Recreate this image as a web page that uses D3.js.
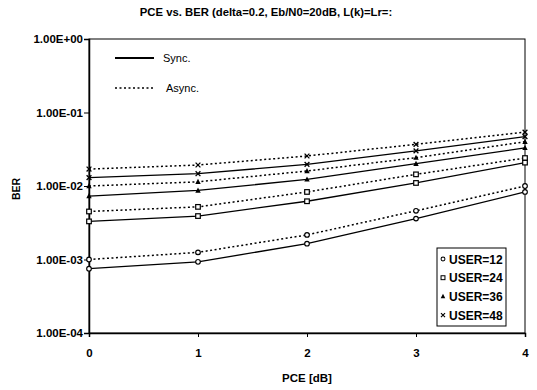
<!DOCTYPE html>
<html>
<head>
<meta charset="utf-8">
<script src="https://cdn.jsdelivr.net/npm/d3@7"></script>
<style>
  body { margin: 0; background: #fff; }
  text { font-family: 'Liberation Sans', Arial, sans-serif; fill: #000; }
</style>
</head>
<body>
<script>
const WIDTH = 537;
const HEIGHT = 390;
const MARGIN = { top: 39, right: 12, bottom: 57, left: 89 };

// PCE values along the x axis
const pce = [0, 1, 2, 3, 4];
const yTicks = [1e0, 1e-1, 1e-2, 1e-3, 1e-4];
const yTickLabels = ['1.00E+00', '1.00E-01', '1.00E-02', '1.00E-03', '1.00E-04'];

// BER per user count, synchronous and asynchronous
const users = [12, 24, 36, 48];
const markers = ['circle', 'square', 'triangle', 'cross'];
const sync12 = [0.00075, 0.00093, 0.00164, 0.0036, 0.0083];
const async12 = [0.00100, 0.00125, 0.00216, 0.0046, 0.0100];
const sync24 = [0.0033, 0.0039, 0.0062, 0.0110, 0.0208];
const async24 = [0.0045, 0.0052, 0.0083, 0.0144, 0.0240];
const sync36 = [0.0073, 0.0087, 0.0123, 0.0201, 0.0330];
const async36 = [0.0100, 0.0114, 0.0160, 0.0243, 0.0400];
const sync48 = [0.0130, 0.0147, 0.0197, 0.0300, 0.0470];
const async48 = [0.0170, 0.0193, 0.0256, 0.0369, 0.0540];

const syncSeries = [sync12, sync24, sync36, sync48];
const asyncSeries = [async12, async24, async36, async48];

const innerW = WIDTH - MARGIN.left - MARGIN.right;
const innerH = HEIGHT - MARGIN.top - MARGIN.bottom;

const svg = d3.select('body').append('svg')
  .attr('width', WIDTH)
  .attr('height', HEIGHT);

// title
svg.append('text')
  .attr('x', 266)
  .attr('y', 16)
  .attr('text-anchor', 'middle')
  .style('font-size', '11.3px')
  .style('font-weight', 'bold')
  .text('PCE vs. BER (delta=0.2, Eb/N0=20dB, L(k)=Lr=:');

const g = svg.append('g')
  .attr('transform', 'translate(' + MARGIN.left + ',' + MARGIN.top + ')');

const x = d3.scaleLinear().domain([0, 4]).range([0, innerW]);
const y = d3.scaleLog().domain([1e-4, 1]).range([innerH, 0]);

// frame
g.append('rect')
  .attr('width', innerW)
  .attr('height', innerH)
  .attr('fill', 'none')
  .attr('stroke', '#000')
  .attr('stroke-width', 1);

// y axis
const yAxis = g.append('g')
  .call(d3.axisLeft(y).tickValues(yTicks).tickFormat((d, i) => yTickLabels[i]).tickSize(5));
yAxis.select('.domain').attr('stroke-width', 1.5);
yAxis.selectAll('text')
  .style('font-size', '11.5px')
  .style('font-weight', 'bold')
  .style('font-family', "'Liberation Sans', Arial, sans-serif")
  .attr('x', -6);

// x axis
const xAxis = g.append('g')
  .attr('transform', 'translate(0,' + innerH + ')')
  .call(d3.axisBottom(x).tickValues(pce).tickFormat(d3.format('d')).tickSize(4));
xAxis.select('.domain').attr('stroke-width', 1.5);
xAxis.selectAll('text')
  .style('font-size', '11.5px')
  .style('font-weight', 'bold')
  .style('font-family', "'Liberation Sans', Arial, sans-serif")
  .attr('dy', '1.45em');

// axis titles
svg.append('text')
  .attr('transform', 'translate(20,' + (MARGIN.top + innerH / 2 + 3) + ') rotate(-90)')
  .attr('text-anchor', 'middle')
  .style('font-size', '10.5px')
  .style('font-weight', 'bold')
  .text('BER');

svg.append('text')
  .attr('x', MARGIN.left + innerW / 2)
  .attr('y', 382)
  .attr('text-anchor', 'middle')
  .style('font-size', '11.5px')
  .style('font-weight', 'bold')
  .text('PCE [dB]');

const line = d3.line()
  .x((d, i) => x(pce[i]))
  .y((d) => y(d));

function drawMarker(sel, type) {
  if (type === 'circle') {
    sel.append('circle').attr('r', 2.3)
      .attr('fill', '#fff').attr('stroke', '#000').attr('stroke-width', 1.2);
  } else if (type === 'square') {
    sel.append('rect').attr('x', -2.3).attr('y', -2.3).attr('width', 4.6).attr('height', 4.6)
      .attr('fill', '#fff').attr('stroke', '#000').attr('stroke-width', 1.2);
  } else if (type === 'triangle') {
    sel.append('path').attr('d', 'M0,-3L2.7,2.2L-2.7,2.2Z').attr('fill', '#000');
  } else {
    sel.append('path').attr('d', 'M-2.4,-2.4L2.4,2.4M-2.4,2.4L2.4,-2.4')
      .attr('stroke', '#000').attr('stroke-width', 1.3);
  }
}

function drawSeries(values, type, dashed) {
  g.append('path')
    .datum(values)
    .attr('d', line)
    .attr('fill', 'none')
    .attr('stroke', '#000')
    .attr('stroke-width', dashed ? 1.5 : 1.3)
    .attr('stroke-dasharray', dashed ? '2,2.5' : null);
  g.selectAll(null)
    .data(values)
    .join('g')
    .attr('transform', (d, i) => 'translate(' + x(pce[i]) + ',' + y(d) + ')')
    .each(function () { drawMarker(d3.select(this), type); });
}

users.forEach((u, k) => {
  drawSeries(asyncSeries[k], markers[k], true);
  drawSeries(syncSeries[k], markers[k], false);
});

// line style legend
const styleLegend = [
  { label: 'Sync.', dash: null, y: 58 },
  { label: 'Async.', dash: '2,2.5', y: 88 }
];
styleLegend.forEach((s) => {
  svg.append('line')
    .attr('x1', 115).attr('x2', 154)
    .attr('y1', s.y).attr('y2', s.y)
    .attr('stroke', '#000')
    .attr('stroke-width', s.dash ? 1.5 : 1.8)
    .attr('stroke-dasharray', s.dash);
  svg.append('text')
    .attr('x', s.dash ? 166 : 163)
    .attr('y', s.y + 4)
    .style('font-size', '11px')
    .text(s.label);
});

// user legend
const lg = svg.append('g').attr('transform', 'translate(437,248)');
lg.append('rect')
  .attr('width', 69).attr('height', 78)
  .attr('fill', '#fff').attr('stroke', '#000').attr('stroke-width', 1);
users.forEach((u, k) => {
  const row = lg.append('g').attr('transform', 'translate(0,' + (11 + k * 18.7) + ')');
  row.append('g').attr('transform', 'translate(6,0) scale(0.85)')
    .call((s) => drawMarker(s, markers[k]));
  row.append('text')
    .attr('x', 12)
    .attr('y', 4.5)
    .style('font-size', '12px')
    .style('font-weight', 'bold')
    .text('USER=' + u);
});
</script>
</body>
</html>
